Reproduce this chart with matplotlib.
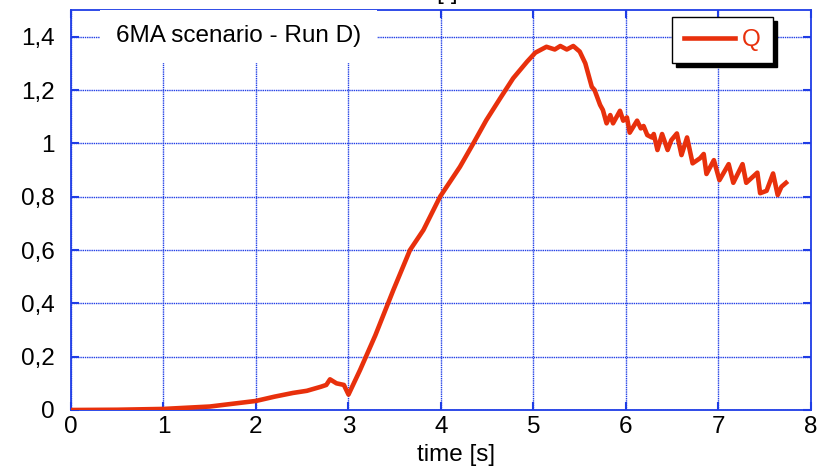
import matplotlib.pyplot as plt
from matplotlib.ticker import FuncFormatter

# values
time_s = [0.0, 0.5, 1.0, 1.5, 2.0, 2.2, 2.4, 2.55, 2.7, 2.76, 2.8, 2.87, 2.95, 3.0,
          3.125, 3.29, 3.485, 3.665, 3.81, 3.99, 4.205, 4.35, 4.49, 4.64, 4.78,
          4.93, 5.02, 5.14, 5.23, 5.29, 5.36, 5.43, 5.50, 5.56, 5.63, 5.66, 5.72,
          5.75, 5.79, 5.83, 5.86, 5.935, 5.97, 6.01, 6.04, 6.12, 6.16, 6.19, 6.23,
          6.28, 6.30, 6.34, 6.39, 6.45, 6.49, 6.55, 6.60, 6.66, 6.72, 6.80, 6.84,
          6.87, 6.95, 7.01, 7.11, 7.16, 7.26, 7.30, 7.42, 7.45, 7.52, 7.59, 7.64,
          7.68, 7.73]
q_vals = [0.0, 0.001, 0.004, 0.013, 0.034, 0.05, 0.064, 0.072, 0.087, 0.094, 0.115,
          0.10, 0.094, 0.058,
          0.15, 0.28, 0.45, 0.60, 0.675, 0.80, 0.912, 1.0, 1.087, 1.169, 1.244,
          1.306, 1.34, 1.362, 1.352, 1.365, 1.352, 1.365, 1.344, 1.30, 1.212, 1.20,
          1.144, 1.125, 1.075, 1.106, 1.075, 1.122, 1.085, 1.097, 1.04, 1.085,
          1.056, 1.065, 1.031, 1.022, 1.035, 0.975, 1.035, 0.975, 1.012, 1.037,
          0.956, 1.022, 0.925, 0.944, 0.96, 0.885, 0.937, 0.862, 0.922, 0.852,
          0.922, 0.852, 0.89, 0.813, 0.822, 0.887, 0.806, 0.837, 0.852]

x_ticks = [0, 1, 2, 3, 4, 5, 6, 7, 8]
y_ticks = [0, 0.2, 0.4, 0.6, 0.8, 1.0, 1.2, 1.4]

blue = '#1f3de6'
red = '#e8300c'
fs = 17.5

plt.rcParams['font.family'] = ['Liberation Sans', 'DejaVu Sans']

fig = plt.figure(figsize=(8.29, 4.71), dpi=100)
ax = fig.add_axes([71 / 829, 1 - 410 / 471, 740 / 829, 400 / 471])

ax.plot(time_s, q_vals, color=red, lw=3.3, label='Q', solid_joinstyle='round',
        zorder=3)

ax.set_xlim(0, 8)
ax.set_ylim(0, 1.5)
ax.set_xticks(x_ticks)
ax.set_yticks(y_ticks)
ax.yaxis.set_major_formatter(FuncFormatter(
    lambda v, p: '0' if v == 0 else ('1' if abs(v - 1) < 1e-9 else ('%.1f' % v).replace('.', ','))))
ax.tick_params(axis='both', direction='in', length=6, width=1.5, color=blue,
               labelsize=fs, top=True, right=True, pad=4)
ax.tick_params(axis='y', pad=12)
ax.grid(True, color=blue, linestyle=(0, (1, 0.6)), linewidth=1.0)
for s in ax.spines.values():
    s.set_color(blue)
    s.set_linewidth(1.3)

ax.set_xlabel('time [s]', fontsize=fs)
ax.xaxis.set_label_coords((456 - 71) / 740, -(455 - 410) / 400)
ax.xaxis.label.set_va('center')

# partly cut-off unit label at the very top
fig.text(447 / 829, 1 - 4 / 471, '[-]', fontsize=fs, ha='center', va='bottom')

ax.text(0.061, 0.934, '6MA scenario - Run D)', transform=ax.transAxes, fontsize=fs,
        ha='left', va='center', zorder=5,
        bbox=dict(boxstyle='square,pad=0.65', facecolor='white', edgecolor='none'))

leg = ax.legend(loc='upper right', bbox_to_anchor=(0.9486, 0.9825), fontsize=fs,
                frameon=True, fancybox=False,
                shadow={'color': 'black', 'alpha': 1, 'ox': 3, 'oy': -3},
                handlelength=2.1, borderpad=0.5, handletextpad=0.3,
                borderaxespad=0.0)
leg.get_frame().set_edgecolor('black')
leg.get_frame().set_linewidth(1.0)
for t in leg.get_texts():
    t.set_color(red)

fig.savefig('out.png', dpi=100)
